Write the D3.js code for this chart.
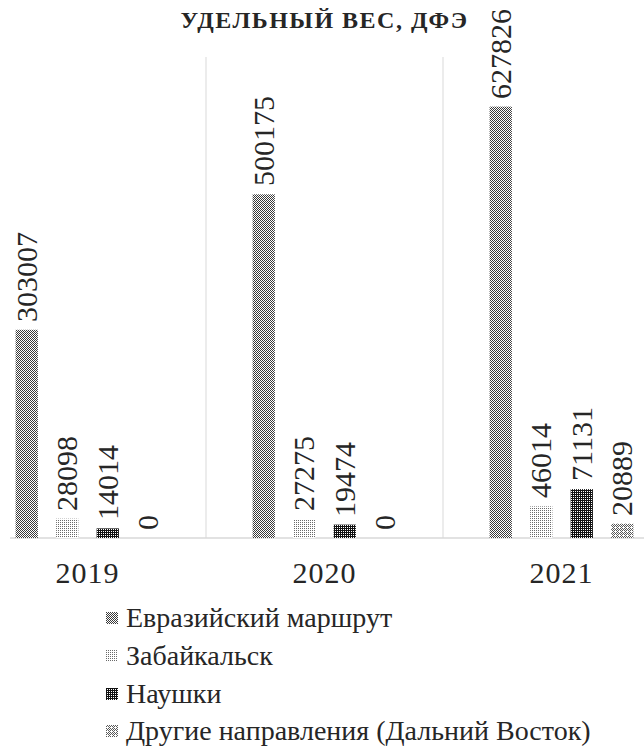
<!DOCTYPE html>
<html><head><meta charset="utf-8">
<script src="https://cdnjs.cloudflare.com/ajax/libs/d3/7.8.5/d3.min.js"></script>
<style>
html,body{margin:0;padding:0;background:#fff;}
#wrap{position:relative;width:644px;height:746px;overflow:hidden;}
#wrap svg{position:absolute;left:0;top:0;display:block;}
.lbl{position:absolute;white-space:nowrap;line-height:1;color:#262626;
     font-family:'Liberation Serif','Times New Roman',Times,serif;}
</style>
</head>
<body>
<div id="wrap"><svg id="chart" width="644" height="746"></svg></div>
<script>
const years = ["2019", "2020", "2021"];
const seriesNames = ["Евразийский маршрут", "Забайкальск", "Наушки", "Другие направления (Дальний Восток)"];
const evraziysky = [303007, 500175, 627826];
const zabaikalsk = [28098, 27275, 46014];
const naushki = [14014, 19474, 71131];
const drugie = [0, 0, 20889];
const titleText = "УДЕЛЬНЫЙ ВЕС, ДФЭ";

const seriesValues = [evraziysky, zabaikalsk, naushki, drugie];
const patternIds = ["p0", "p1", "p2", "p3"];
const BASE = 0.8375; // baseline offset within a line-height:1 box (em)

const ctx = document.createElement("canvas").getContext("2d");
["30px 'Liberation Serif'", "bold 24px 'Liberation Serif'"].forEach(f => {
  ctx.font = f; ctx.measureText("Евразийский 2019 УДЕЛЬНЫЙ");
});

const wrap = d3.select("#wrap");
const svg = d3.select("#chart");
const defs = svg.append("defs");

function pat(id, size, bg, cells, color) {
  const p = defs.append("pattern").attr("id", id).attr("patternUnits", "userSpaceOnUse")
    .attr("width", size).attr("height", size);
  p.append("rect").attr("width", size).attr("height", size).attr("fill", bg);
  cells.forEach(c => p.append("rect").attr("x", c[0]).attr("y", c[1]).attr("width", 1).attr("height", 1).attr("fill", color));
}
pat("p0", 2, "#ffffff", [[0,0],[1,1]], "#3a3a3a");
pat("p1", 2, "#ffffff", [[0,0]], "#6a6a6a");
pat("p2", 2, "#111111", [[1,1]], "#ffffff");
pat("p3", 4, "#ffffff", [[0,0],[2,0],[1,1],[3,1],[0,2],[2,2],[1,3]], "#5a5a5a");

const plotLeft = -31, plotRight = 680, plotTop = 57, plotBottom = 538;

const x0 = d3.scaleBand().domain(years).range([plotLeft, plotRight]).paddingInner(0).paddingOuter(0);
const x1 = d3.scaleBand().domain(d3.range(4)).range([0, x0.bandwidth()]).paddingInner(0.45).paddingOuter(1.15);
const y = d3.scaleLinear().domain([0, 700000]).range([plotBottom, plotTop]);

function label(text, size) {
  return wrap.append("div").attr("class", "lbl").style("font-size", size + "px").text(text);
}

const sep = svg.append("g");
years.slice(1).forEach(yr => {
  sep.append("line").attr("x1", x0(yr)).attr("x2", x0(yr))
    .attr("y1", plotTop).attr("y2", plotBottom).attr("stroke", "#d9d9d9").attr("stroke-width", 1);
});

svg.append("line").attr("x1", 10).attr("x2", 644).attr("y1", plotBottom).attr("y2", plotBottom)
  .attr("stroke", "#d9d9d9").attr("stroke-width", 1.5);

const gBars = svg.append("g");
years.forEach((yr, i) => {
  seriesValues.forEach((vals, s) => {
    const v = vals[i];
    const bx = x0(yr) + x1(s);
    if (v > 0) {
      gBars.append("rect").attr("x", bx).attr("y", y(v)).attr("width", x1.bandwidth())
        .attr("height", y(0) - y(v)).attr("fill", "url(#" + patternIds[s] + ")");
    }
    const cx = bx + x1.bandwidth() / 2;
    const ly = y(v) - 8;
    label(String(v), 30)
      .style("left", cx + "px").style("top", ly + "px")
      .style("transform-origin", "0 0")
      .style("transform", "rotate(-90deg) translateY(-50%)");
  });
});

years.forEach(yr => {
  label(yr, 30)
    .style("left", (x0(yr) + x0.bandwidth() / 2) + "px")
    .style("top", (583 - BASE * 30) + "px")
    .style("letter-spacing", "1px")
    .style("transform", "translateX(-50%)");
});

label(titleText, 24)
  .style("left", ((plotLeft + plotRight) / 2) + "px")
  .style("top", (28 - BASE * 24) + "px")
  .style("font-weight", "bold")
  .style("letter-spacing", "1.5px")
  .style("transform", "translateX(-50%)");

const legBase = [627, 665, 703, 740];
seriesNames.forEach((name, s) => {
  svg.append("rect").attr("x", 106).attr("y", legBase[s] - 15).attr("width", 12).attr("height", 12)
    .attr("fill", "url(#" + patternIds[s] + ")");
  label(name, 28)
    .style("left", "126px")
    .style("top", (legBase[s] - BASE * 28) + "px");
});
</script>
</body></html>
